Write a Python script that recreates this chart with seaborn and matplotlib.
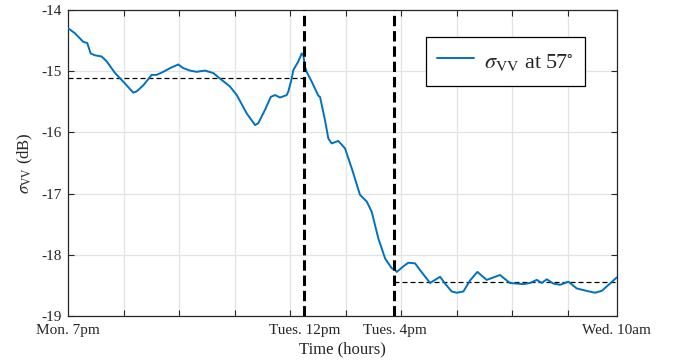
import matplotlib
matplotlib.use("Agg")
import matplotlib.pyplot as plt
import seaborn as sns
import pandas as pd

# time in hours since Mon 7pm, backscatter in dB
hours = [0, 0.48, 1.08, 1.37, 1.61, 1.92, 2.41, 2.77, 3.37, 3.96, 4.68, 4.93, 5.41,
         6.01, 6.37, 6.85, 7.33, 7.93, 8.29, 8.77, 9.25, 9.85, 10.45, 10.93, 11.65,
         12.14, 12.86, 13.46, 13.69, 14.18, 14.59, 14.90, 15.26, 15.74, 15.86, 16.10,
         16.22, 16.58, 16.82, 16.94, 17.06, 17.18, 17.54, 18.02, 18.14, 18.50, 18.74,
         18.98, 19.46, 19.94, 20.43, 21.02, 21.51, 21.87, 22.34, 22.83, 23.31, 23.55,
         23.67, 24.14, 24.50, 24.99, 25.35, 26.07, 26.43, 26.79, 27.15, 27.63, 27.99,
         28.47, 28.95, 29.48, 30.15, 31.11, 31.71, 31.83, 32.79, 33.28, 33.76, 34.12,
         34.48, 34.95, 35.44, 36.04, 36.64, 37.36, 37.96, 38.44, 39.04, 39.52]
sigma_vv = [-14.30, -14.38, -14.52, -14.54, -14.71, -14.74, -14.76, -14.84, -15.03,
            -15.17, -15.35, -15.33, -15.23, -15.06, -15.06, -15.01, -14.95, -14.89,
            -14.95, -14.99, -15.01, -14.99, -15.03, -15.12, -15.25, -15.39, -15.69,
            -15.88, -15.85, -15.63, -15.42, -15.39, -15.43, -15.39, -15.33, -15.12,
            -14.98, -14.84, -14.71, -14.74, -14.93, -15.01, -15.17, -15.40, -15.42,
            -15.80, -16.10, -16.18, -16.14, -16.26, -16.59, -17.02, -17.13, -17.30,
            -17.73, -18.06, -18.22, -18.25, -18.28, -18.19, -18.13, -18.14, -18.25,
            -18.46, -18.41, -18.36, -18.47, -18.60, -18.62, -18.60, -18.42, -18.28,
            -18.41, -18.33, -18.44, -18.46, -18.48, -18.46, -18.41, -18.46, -18.40,
            -18.47, -18.49, -18.44, -18.55, -18.59, -18.62, -18.59, -18.47, -18.37]

event_times = [17.0, 23.5]
before_level = -15.11
after_level = -18.44

grid_ticks = [0, 4, 8, 12, 16, 20, 24, 28, 32, 36, 39.52]
label_pos = [0, 17.0, 23.5, 39.52]
label_text = ["Mon. 7pm", "Tues. 12pm", "Tues. 4pm", "Wed. 10am"]
y_ticks = [-19, -18, -17, -16, -15, -14]

sns.set_theme(style="whitegrid")
plt.rcParams["font.family"] = ["Liberation Serif", "DejaVu Serif"]
plt.rcParams["mathtext.fontset"] = "stix"

fig = plt.figure(figsize=(6.78, 3.64), dpi=100)
ax = fig.add_axes([0.1007, 0.1319, 0.8089, 0.8406])

df = pd.DataFrame({"t": hours, "s": sigma_vv})
sns.lineplot(data=df, x="t", y="s", ax=ax, color="#0072BD", linewidth=1.4,
             label=r"$\sigma_{\rm VV}$ at 57$^{\circ}$", zorder=3)

for t in event_times:
    ax.axvline(t, color="black", linestyle=(0, (3.4, 1.6)), linewidth=2.2, zorder=4)
ax.plot([0, event_times[0]], [before_level, before_level], color="black",
        linestyle=(0, (4, 2.4)), linewidth=0.9, zorder=2)
ax.plot([event_times[1], 39.52], [after_level, after_level], color="black",
        linestyle=(0, (4, 2.4)), linewidth=0.9, zorder=2)

ax.set_xlim(0, 39.52)
ax.set_ylim(-19, -14)
# labelled positions as major ticks (no marks), grid positions as minor ticks
ax.set_xticks(label_pos)
ax.set_xticklabels(label_text)
ax.set_xticks(grid_ticks, minor=True)
ax.set_yticks(y_ticks)
ax.set_yticklabels([str(v) for v in y_ticks])
ax.set_xlabel("Time (hours)", fontsize=12, labelpad=3)
ax.set_ylabel(r"$\sigma_{\rm VV}$ (dB)", fontsize=12, labelpad=4)

ax.set_facecolor("white")
ax.xaxis.grid(False, which="major")
ax.xaxis.grid(True, which="minor", color="#e3e3e3", linewidth=0.9)
ax.yaxis.grid(True, which="major", color="#e3e3e3", linewidth=0.9)
for sp in ax.spines.values():
    sp.set_color("#262626")
    sp.set_linewidth(0.9)
ax.tick_params(axis="y", which="major", direction="in", length=4, width=0.8,
               color="#262626", left=True, right=True,
               labelsize=11, labelcolor="#262626", pad=5)
ax.tick_params(axis="x", which="major", length=0, labelsize=11,
               labelcolor="#262626", pad=6)
ax.tick_params(axis="x", which="minor", direction="in", length=4, width=0.8,
               color="#262626", bottom=True, top=True)

leg = ax.legend(loc="upper left", bbox_to_anchor=(0.652, 0.912), fontsize=16,
                frameon=True, fancybox=False, borderpad=0.5, handlelength=1.65,
                handleheight=1.45, handletextpad=0.45, borderaxespad=0)
leg.get_frame().set_edgecolor("black")
leg.get_frame().set_linewidth(0.9)
leg.get_frame().set_alpha(1)

fig.savefig("out.png", dpi=100)
